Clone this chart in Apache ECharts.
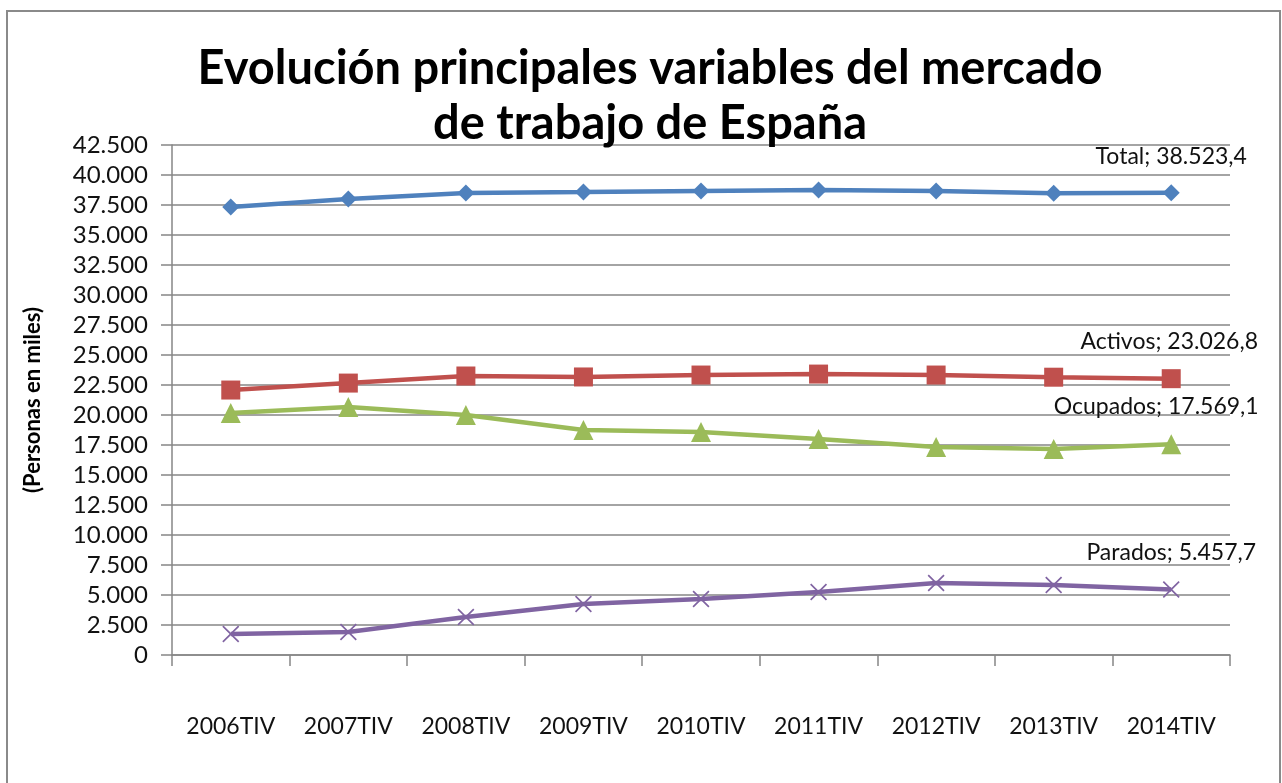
<!DOCTYPE html>
<html>
<head>
<meta charset="utf-8">
<script src="https://cdn.jsdelivr.net/npm/echarts@6/dist/echarts.min.js"></script>
<style>
html,body{margin:0;padding:0;background:#fff;}
#chart{width:1282px;height:783px;}
</style>
</head>
<body>
<div id="chart"></div>
<script>
var categories = ['2006TIV','2007TIV','2008TIV','2009TIV','2010TIV','2011TIV','2012TIV','2013TIV','2014TIV'];
var total    = [37330, 38000, 38500, 38580, 38670, 38760, 38670, 38480, 38523.4];
var activos  = [22080, 22660, 23250, 23170, 23330, 23410, 23330, 23150, 23026.8];
var ocupados = [20160, 20660, 20000, 18750, 18580, 18000, 17330, 17170, 17569.1];
var parados  = [1750, 1920, 3170, 4250, 4670, 5250, 6000, 5830, 5457.7];
var yTicks = [0, 42500, 2500];

var xMark = 'path://M0,0.7L0.7,0L5,4.3L9.3,0L10,0.7L5.7,5L10,9.3L9.3,10L5,5.7L0.7,10L0,9.3L4.3,5Z';
var fontF = 'Lato, "Open Sans", sans-serif';

function fmt(v){
  var s = v.toFixed(1).split('.');
  var ent = s[0].replace(/\B(?=(\d{3})+(?!\d))/g, '.');
  return ent + ',' + s[1];
}
function tickFmt(v){
  return String(v).replace(/\B(?=(\d{3})+(?!\d))/g, '.');
}

function mkSeries(name, data, color, symbol, size, offs){
  return {
    name: name,
    type: 'line',
    data: data.map(function(v, i){
      if (i < data.length - 1) return v;
      return {
        value: v,
        label: {
          show: true,
          position: 'top',
          offset: offs,
          formatter: function(p){ return name + '; ' + fmt(p.value); },
          color: '#111',
          fontFamily: fontF,
          fontSize: 23
        }
      };
    }),
    symbol: symbol,
    symbolSize: size,
    showAllSymbol: true,
    lineStyle: { color: color, width: 4.5 },
    itemStyle: { color: color, borderWidth: 0 },
    emphasis: { disabled: true },
    z: 3
  };
}

var chart = echarts.init(document.getElementById('chart'));
var option = {
  animation: false,
  backgroundColor: '#fff',
  title: {
    text: 'Evolución principales variables del mercado\nde trabajo de España',
    left: 645,
    textAlign: 'center',
    top: 36,
    textStyle: {
      fontFamily: fontF,
      fontWeight: 'bold',
      fontSize: 47,
      lineHeight: 55,
      color: '#000'
    }
  },
  graphic: [{
    type: 'rect',
    shape: { x: 7, y: 11, width: 1273, height: 785 },
    style: { fill: 'none', stroke: '#8a8a8a', lineWidth: 2 },
    silent: true
  }],
  grid: { left: 172, right: 52, top: 145, bottom: 128 },
  xAxis: {
    type: 'category',
    data: categories,
    boundaryGap: true,
    axisLine: { lineStyle: { color: '#868686', width: 1.5 } },
    axisTick: { show: true, length: 11, alignWithLabel: false, lineStyle: { color: '#868686', width: 1.5 } },
    axisLabel: { margin: 60, color: '#111', fontFamily: fontF, fontSize: 23 }
  },
  yAxis: {
    type: 'value',
    min: yTicks[0],
    max: yTicks[1],
    interval: yTicks[2],
    name: '(Personas en miles)',
    nameLocation: 'middle',
    nameGap: 128,
    nameTextStyle: { fontFamily: fontF, fontWeight: 'bold', fontSize: 22, color: '#000' },
    axisLine: { show: true, lineStyle: { color: '#868686', width: 1.5 } },
    axisTick: { show: true, length: 11, lineStyle: { color: '#868686', width: 1.5 } },
    axisLabel: { margin: 24, color: '#111', fontFamily: fontF, fontSize: 24, formatter: tickFmt },
    splitLine: { lineStyle: { color: '#868686', width: 1.5 } }
  },
  series: [
    mkSeries('Total', total, '#4F81BD', 'diamond', 17, [0, -11]),
    mkSeries('Activos', activos, '#C0504D', 'rect', 19, [-2, -11]),
    mkSeries('Ocupados', ocupados, '#9BBB59', 'triangle', 20, [-15, -11]),
    mkSeries('Parados', parados, '#8064A2', xMark, 17, [0, -12])
  ]
};
chart.setOption(option);
</script>
</body>
</html>
